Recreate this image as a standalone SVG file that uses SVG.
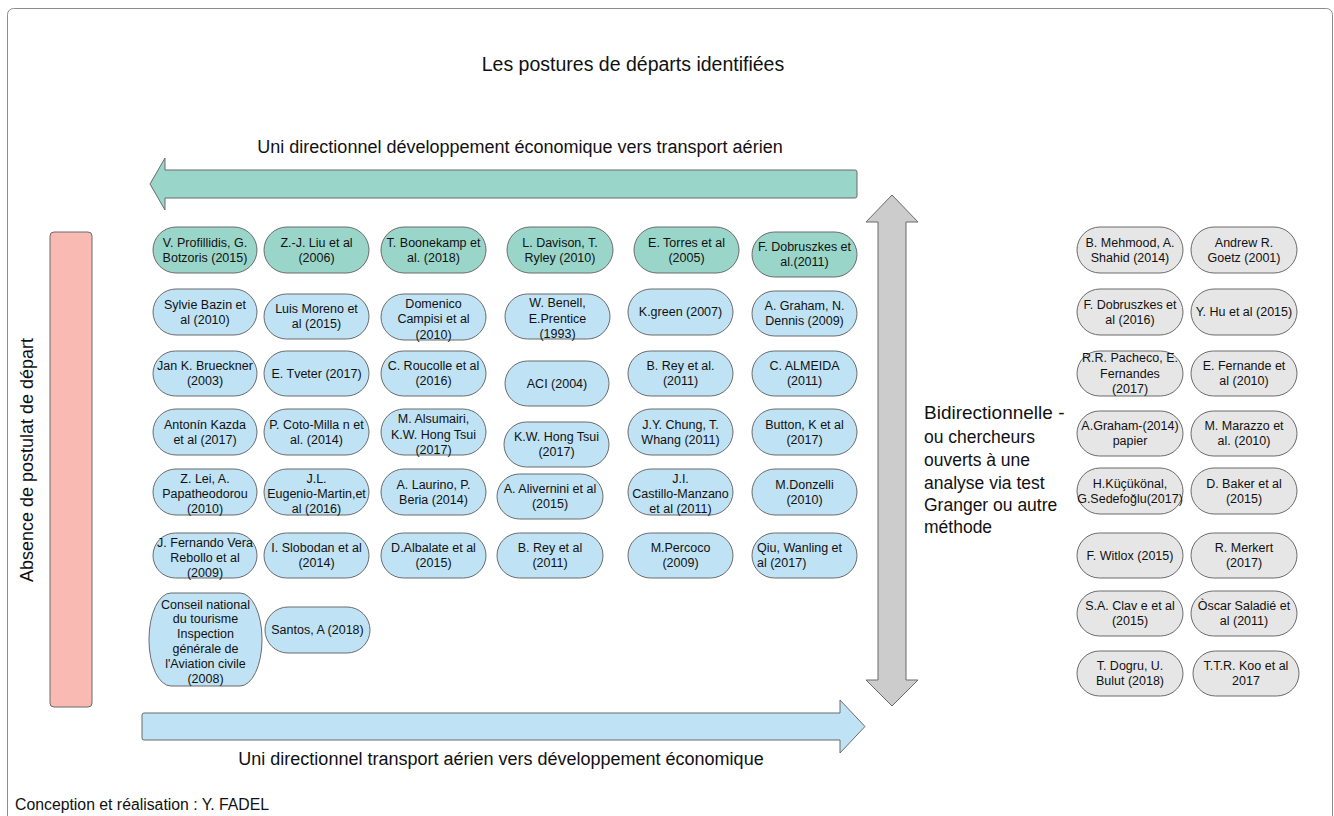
<svg xmlns="http://www.w3.org/2000/svg" width="1334" height="816" viewBox="0 0 1334 816">
<style>
text{font-family:"Liberation Sans",Arial,sans-serif;fill:#111}
.n{font-size:12.5px;text-anchor:middle}
.t{fill:#9ad5c9;stroke:#6b6b6b;stroke-width:1}
.b{fill:#bfe2f5;stroke:#6b6b6b;stroke-width:1}
.g{fill:#e6e6e6;stroke:#6b6b6b;stroke-width:1}
.lbl{font-size:18px;text-anchor:middle}
</style>
<rect width="1334" height="816" fill="#fff"/>
<rect x="7.5" y="8.5" width="1325" height="830" rx="6" fill="none" stroke="#8c8c8c" stroke-width="1"/>

<text x="633" y="71" style="font-size:19.5px;text-anchor:middle">Les postures de départs identifiées</text>

<g id="connectors">
<path d="M165,170 H855 Q857,170 857,172 V196 Q857,198 855,198 H165 V210 L150,184 L165,158 Z" fill="#9ad5c9" stroke="#6b6b6b"/>
<path d="M144,713 H840 V700 L865,726.5 L840,753 V740 H144 Q142,740 142,738 V715 Q142,713 144,713 Z" fill="#bfe2f5" stroke="#6b6b6b"/>
<path d="M892,195 L918,222 H906 V680 H918 L892,706 L866,680 H878 V222 H866 Z" fill="#cccccc" stroke="#6b6b6b"/>
</g>
<text class="lbl" x="520" y="153">Uni directionnel développement économique vers transport aérien</text>
<text class="lbl" x="501" y="765">Uni directionnel transport aérien vers développement économique</text>

<g id="absence">
<rect x="50" y="232" width="42" height="475" rx="4" fill="#f8bab3" stroke="#6b6b6b"/>
<text transform="translate(33,460) rotate(-90)" style="font-size:18px;text-anchor:middle">Absence de postulat de départ</text>
</g>

<g id="bidir">
<text x="924" y="419" style="font-size:19px">Bidirectionnelle -</text>
<text x="924" y="443" style="font-size:17.5px">ou chercheurs</text>
<text x="924" y="466" style="font-size:17.5px">ouverts à une</text>
<text x="924" y="489" style="font-size:17.5px">analyse via test</text>
<text x="924" y="511" style="font-size:17.5px">Granger ou autre</text>
<text x="924" y="533" style="font-size:17.5px">méthode</text>
</g>

<!-- Row 1 teal -->
<g id="n_profillidis"><rect class="t" x="153" y="227" width="104" height="46" rx="23"/><text class="n" x="205" y="246.8">V. Profillidis, G.<tspan x="205" dy="15">Botzoris (2015)</tspan></text></g>
<g id="n_liu"><rect class="t" x="264" y="227" width="105" height="46" rx="23"/><text class="n" x="316.5" y="246.8">Z.-J. Liu et al<tspan x="316.5" dy="15">(2006)</tspan></text></g>
<g id="n_boonekamp"><rect class="t" x="381" y="227" width="105" height="46" rx="23"/><text class="n" x="433.5" y="246.8">T. Boonekamp et<tspan x="433.5" dy="15">al. (2018)</tspan></text></g>
<g id="n_davison"><rect class="t" x="507" y="227" width="106" height="46" rx="23"/><text class="n" x="560" y="246.8">L. Davison, T.<tspan x="560" dy="15">Ryley (2010)</tspan></text></g>
<g id="n_torres"><rect class="t" x="634" y="227" width="105" height="46" rx="23"/><text class="n" x="686.5" y="246.8">E. Torres et al<tspan x="686.5" dy="15">(2005)</tspan></text></g>
<g id="n_dobruszkes2011"><rect class="t" x="752" y="232" width="105" height="45" rx="22.5"/><text class="n" x="804.5" y="251.3">F. Dobruszkes et<tspan x="804.5" dy="15">al.(2011)</tspan></text></g>

<!-- Row 2 -->
<g id="n_bazin"><rect class="b" x="153" y="289" width="104" height="46" rx="23"/><text class="n" x="205" y="308.8">Sylvie Bazin et<tspan x="205" dy="15">al (2010)</tspan></text></g>
<g id="n_moreno"><rect class="b" x="264" y="294" width="105" height="45" rx="22.5"/><text class="n" x="316.5" y="313.3">Luis Moreno et<tspan x="316.5" dy="15">al (2015)</tspan></text></g>
<g id="n_campisi"><rect class="b" x="381" y="294" width="105" height="46" rx="23"/><text class="n" x="433.5" y="307.5">Domenico<tspan x="433.5" dy="15.5">Campisi et al</tspan><tspan x="433.5" dy="15.5">(2010)</tspan></text></g>
<g id="n_benell"><rect class="b" x="505" y="294" width="105" height="45" rx="22.5"/><text class="n" x="557.5" y="307">W. Benell,<tspan x="557.5" dy="15.5">E.Prentice</tspan><tspan x="557.5" dy="15.5">(1993)</tspan></text></g>
<g id="n_green"><rect class="b" x="628" y="289" width="105" height="46" rx="23"/><text class="n" x="680.5" y="316.3">K.green (2007)</text></g>
<g id="n_graham2009"><rect class="b" x="752" y="291" width="105" height="45" rx="22.5"/><text class="n" x="804.5" y="310.3">A. Graham, N.<tspan x="804.5" dy="15">Dennis (2009)</tspan></text></g>

<!-- Row 3 -->
<g id="n_brueckner"><rect class="b" x="153" y="351" width="104" height="45" rx="22.5"/><text class="n" x="205" y="370.3">Jan K. Brueckner<tspan x="205" dy="15">(2003)</tspan></text></g>
<g id="n_tveter"><rect class="b" x="264" y="351" width="105" height="45" rx="22.5"/><text class="n" x="316.5" y="377.8">E. Tveter (2017)</text></g>
<g id="n_roucolle"><rect class="b" x="381" y="351" width="105" height="45" rx="22.5"/><text class="n" x="433.5" y="370.3">C. Roucolle et al<tspan x="433.5" dy="15">(2016)</tspan></text></g>
<g id="n_aci"><rect class="b" x="505" y="361" width="104" height="45" rx="22.5"/><text class="n" x="557" y="387.8">ACI (2004)</text></g>
<g id="n_rey2011a"><rect class="b" x="628" y="351" width="105" height="45" rx="22.5"/><text class="n" x="680.5" y="370.3">B. Rey et al.<tspan x="680.5" dy="15">(2011)</tspan></text></g>
<g id="n_almeida"><rect class="b" x="752" y="351" width="105" height="45" rx="22.5"/><text class="n" x="804.5" y="370.3">C. ALMEIDA<tspan x="804.5" dy="15">(2011)</tspan></text></g>

<!-- Row 4 -->
<g id="n_kazda"><rect class="b" x="153" y="409" width="104" height="46" rx="23"/><text class="n" x="205" y="428.8">Antonín Kazda<tspan x="205" dy="15">et al (2017)</tspan></text></g>
<g id="n_coto"><rect class="b" x="264" y="409" width="105" height="46" rx="23"/><text class="n" x="316.5" y="428.8">P. Coto-Milla n et<tspan x="316.5" dy="15">al. (2014)</tspan></text></g>
<g id="n_alsumairi"><rect class="b" x="381" y="409" width="105" height="46" rx="23"/><text class="n" x="433.5" y="423.3">M. Alsumairi,<tspan x="433.5" dy="15.5">K.W. Hong Tsui</tspan><tspan x="433.5" dy="15.5">(2017)</tspan></text></g>
<g id="n_tsui"><rect class="b" x="504" y="422" width="105" height="45" rx="22.5"/><text class="n" x="556.5" y="441.3">K.W. Hong Tsui<tspan x="556.5" dy="15">(2017)</tspan></text></g>
<g id="n_chung"><rect class="b" x="628" y="409" width="105" height="46" rx="23"/><text class="n" x="680.5" y="428.8">J.Y. Chung, T.<tspan x="680.5" dy="15">Whang (2011)</tspan></text></g>
<g id="n_button"><rect class="b" x="752" y="409" width="105" height="46" rx="23"/><text class="n" x="804.5" y="428.8">Button, K et al<tspan x="804.5" dy="15">(2017)</tspan></text></g>

<!-- Row 5 -->
<g id="n_lei"><rect class="b" x="153" y="469" width="104" height="46" rx="23"/><text class="n" x="205" y="483.3">Z. Lei, A.<tspan x="205" dy="15">Papatheodorou</tspan><tspan x="205" dy="15">(2010)</tspan></text></g>
<g id="n_eugenio"><rect class="b" x="264" y="469" width="105" height="46" rx="23"/><text class="n" x="316.5" y="483.3">J.L.<tspan x="316.5" dy="15">Eugenio-Martin,et</tspan><tspan x="316.5" dy="15">al (2016)</tspan></text></g>
<g id="n_laurino"><rect class="b" x="381" y="469" width="105" height="46" rx="23"/><text class="n" x="433.5" y="488.8">A. Laurino, P.<tspan x="433.5" dy="15">Beria (2014)</tspan></text></g>
<g id="n_alivernini"><rect class="b" x="497" y="474" width="106" height="45" rx="22.5"/><text class="n" x="550" y="493.3">A. Alivernini et al<tspan x="550" dy="15">(2015)</tspan></text></g>
<g id="n_castillo"><rect class="b" x="628" y="469" width="105" height="46" rx="23"/><text class="n" x="680.5" y="483.3">J.I.<tspan x="680.5" dy="15">Castillo-Manzano</tspan><tspan x="680.5" dy="15">et al (2011)</tspan></text></g>
<g id="n_donzelli"><rect class="b" x="752" y="469" width="105" height="46" rx="23"/><text class="n" x="804.5" y="488.8">M.Donzelli<tspan x="804.5" dy="15">(2010)</tspan></text></g>

<!-- Row 6 -->
<g id="n_fernando"><rect class="b" x="153" y="533" width="104" height="45" rx="22.5"/><text class="n" x="205" y="547.3">J. Fernando Vera<tspan x="205" dy="15">Rebollo et al</tspan><tspan x="205" dy="15">(2009)</tspan></text></g>
<g id="n_slobodan"><rect class="b" x="264" y="533" width="105" height="45" rx="22.5"/><text class="n" x="316.5" y="552.3">I. Slobodan et al<tspan x="316.5" dy="15">(2014)</tspan></text></g>
<g id="n_albalate"><rect class="b" x="381" y="533" width="105" height="45" rx="22.5"/><text class="n" x="433.5" y="552.3">D.Albalate et al<tspan x="433.5" dy="15">(2015)</tspan></text></g>
<g id="n_rey2011b"><rect class="b" x="497" y="533" width="106" height="45" rx="22.5"/><text class="n" x="550" y="552.3">B. Rey et al<tspan x="550" dy="15">(2011)</tspan></text></g>
<g id="n_percoco"><rect class="b" x="628" y="533" width="105" height="45" rx="22.5"/><text class="n" x="680.5" y="552.3">M.Percoco<tspan x="680.5" dy="15">(2009)</tspan></text></g>
<g id="n_qiu"><rect class="b" x="752" y="533" width="105" height="45" rx="22.5"/><text x="757" y="552.3" style="font-size:12.5px">Qiu, Wanling et<tspan x="757" dy="15">al (2017)</tspan></text></g>

<!-- Row 7 -->
<g id="n_conseil"><rect class="b" x="149" y="593" width="113" height="93" rx="22" ry="46"/><text class="n" x="205.5" y="608.5">Conseil national<tspan x="205.5" dy="14.8">du tourisme</tspan><tspan x="205.5" dy="14.8">Inspection</tspan><tspan x="205.5" dy="14.8">générale de</tspan><tspan x="205.5" dy="14.8">l'Aviation civile</tspan><tspan x="205.5" dy="14.8">(2008)</tspan></text></g>
<g id="n_santos"><rect class="b" x="265" y="607" width="105" height="46" rx="23"/><text class="n" x="317.5" y="634.3">Santos, A (2018)</text></g>

<!-- Gray column -->
<g id="n_mehmood"><rect class="g" x="1077" y="227" width="106" height="46" rx="23"/><text class="n" x="1130" y="246.8">B. Mehmood, A.<tspan x="1130" dy="15">Shahid (2014)</tspan></text></g>
<g id="n_goetz"><rect class="g" x="1191" y="227" width="106" height="46" rx="23"/><text class="n" x="1244" y="246.8">Andrew R.<tspan x="1244" dy="15">Goetz (2001)</tspan></text></g>
<g id="n_dobruszkes2016"><rect class="g" x="1077" y="289" width="106" height="46" rx="23"/><text class="n" x="1130" y="308.8">F. Dobruszkes et<tspan x="1130" dy="15">al (2016)</tspan></text></g>
<g id="n_hu"><rect class="g" x="1191" y="289" width="106" height="46" rx="23"/><text class="n" x="1244" y="316.3">Y. Hu et al (2015)</text></g>
<g id="n_pacheco"><rect class="g" x="1077" y="351" width="106" height="45" rx="22.5"/><text class="n" x="1130" y="362">R.R. Pacheco, E.<tspan x="1130" dy="15.5">Fernandes</tspan><tspan x="1130" dy="15.5">(2017)</tspan></text></g>
<g id="n_fernande"><rect class="g" x="1191" y="351" width="106" height="45" rx="22.5"/><text class="n" x="1244" y="370.3">E. Fernande et<tspan x="1244" dy="15">al (2010)</tspan></text></g>
<g id="n_graham2014"><rect class="g" x="1077" y="411" width="106" height="45" rx="22.5"/><text class="n" x="1130" y="430.3">A.Graham-(2014)<tspan x="1130" dy="15">papier</tspan></text></g>
<g id="n_marazzo"><rect class="g" x="1191" y="411" width="106" height="45" rx="22.5"/><text class="n" x="1244" y="430.3">M. Marazzo et<tspan x="1244" dy="15">al. (2010)</tspan></text></g>
<g id="n_kucukonal"><rect class="g" x="1077" y="468" width="106" height="46" rx="23"/><text class="n" x="1130" y="487.8">H.Küçükönal,<tspan x="1130" dy="15">G.Sedefoğlu(2017)</tspan></text></g>
<g id="n_baker"><rect class="g" x="1191" y="468" width="106" height="46" rx="23"/><text class="n" x="1244" y="487.8">D. Baker et al<tspan x="1244" dy="15">(2015)</tspan></text></g>
<g id="n_witlox"><rect class="g" x="1077" y="533" width="106" height="45" rx="22.5"/><text class="n" x="1130" y="559.8">F. Witlox (2015)</text></g>
<g id="n_merkert"><rect class="g" x="1191" y="533" width="106" height="45" rx="22.5"/><text class="n" x="1244" y="552.3">R. Merkert<tspan x="1244" dy="15">(2017)</tspan></text></g>
<g id="n_clave"><rect class="g" x="1077" y="591" width="106" height="45" rx="22.5"/><text class="n" x="1130" y="610.3">S.A. Clav e et al<tspan x="1130" dy="15">(2015)</tspan></text></g>
<g id="n_saladie"><rect class="g" x="1191" y="591" width="106" height="45" rx="22.5"/><text class="n" x="1244" y="610.3">Òscar Saladié et<tspan x="1244" dy="15">al (2011)</tspan></text></g>
<g id="n_dogru"><rect class="g" x="1077" y="651" width="106" height="45" rx="22.5"/><text class="n" x="1130" y="670.3">T. Dogru, U.<tspan x="1130" dy="15">Bulut (2018)</tspan></text></g>
<g id="n_koo"><rect class="g" x="1193" y="651" width="106" height="45" rx="22.5"/><text class="n" x="1246" y="670.3">T.T.R. Koo et al<tspan x="1246" dy="15">2017</tspan></text></g>

<text x="15" y="810" style="font-size:15.8px">Conception et réalisation : Y. FADEL</text>
</svg>
